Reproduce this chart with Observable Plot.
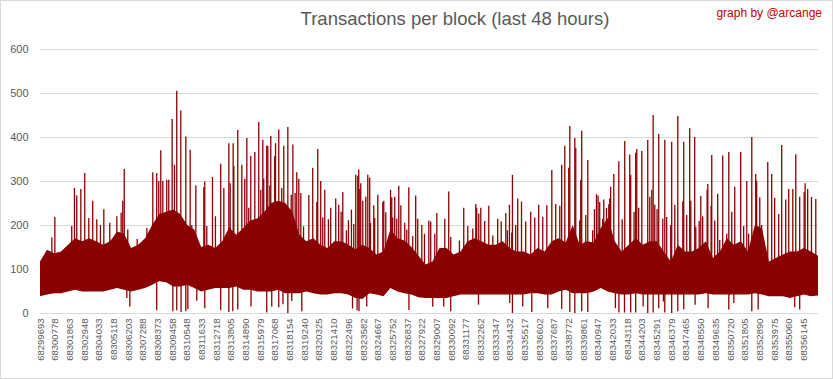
<!DOCTYPE html>
<html>
<head>
<meta charset="utf-8">
<script src="https://cdn.jsdelivr.net/npm/d3@7"></script>
<script src="https://cdn.jsdelivr.net/npm/@observablehq/plot@0.6"></script>
<style>
  html, body { margin: 0; padding: 0; background: #fff; }
  #chart { position: relative; width: 833px; height: 379px; overflow: hidden; background: #fff; font-family: "Liberation Sans", Arial, sans-serif; }
  #frame { position: absolute; left: 0; top: 0; width: 833px; height: 379px; box-sizing: border-box; border: 1px solid #d9d9d9; pointer-events: none; }
  #title { position: absolute; top: 8px; left: 455px; transform: translateX(-50%); white-space: nowrap; font-size: 18.5px; color: #595959; }
  #credit { position: absolute; top: 6px; right: 11px; white-space: nowrap; font-size: 12px; color: #c00000; }
  #plot { position: absolute; left: 0; top: 40px; }
</style>
</head>
<body>
<div id="chart">
  <div id="title">Transactions per block (last 48 hours)</div>
  <div id="credit">graph by @arcange</div>
  <div id="plot"></div>
  <div id="frame"></div>
</div>
<script>
// ---- data (block offsets from the first block 68299693) ----
const blockCount = 57500;
const bandStep = 518;
const bandHigh = [
  117,144,136,140,155,170,163,170,163,155,
  163,185,180,148,155,170,200,225,230,235,
  225,200,190,150,155,148,163,195,178,193,
  210,215,230,250,255,250,230,178,163,170,
  155,148,163,163,155,145,155,148,133,140,
  190,170,165,150,130,110,117,148,148,133,
  140,163,170,163,155,155,163,148,140,140,
  133,148,140,163,170,160,200,155,163,160,
  193,216,163,140,155,170,155,163,163,140,
  117,155,140,140,148,163,125,140,170,155,
  163,140,200,193,117,125,133,140,140,148,
  140,130
];
const bandLow = [
  38,42,45,45,49,53,49,49,49,49,
  53,57,53,49,53,57,64,72,70,60,
  60,64,57,49,53,57,57,57,60,53,
  53,49,49,49,53,45,45,45,49,45,
  42,42,45,45,42,34,32,45,42,38,
  57,49,45,42,36,34,34,34,34,38,
  42,42,42,42,42,42,42,42,42,42,
  45,45,42,42,49,53,45,45,45,49,
  57,49,45,42,42,45,42,42,42,42,
  42,42,42,42,42,45,42,42,42,42,
  42,42,45,42,38,38,38,34,38,42,
  38,40
];
const spikes = [
  [840,172],[1060,218],[2310,198],[2510,284],[2680,267],[2980,282],[3270,318],[3570,216],[3860,255],[4160,213],
  [4430,200],[4680,236],[5120,205],[5640,220],[5960,228],[6080,255],[6190,327],[6450,190],[7150,168],[7860,193],
  [8300,320],[8590,318],[8740,300],[8890,370],[9040,300],[9330,303],[9480,303],[9730,441],[9900,337],[10070,505],
  [10220,223],[10370,460],[10520,212],[10740,401],[11060,371],[11180,200],[11480,290],[12070,286],[12140,299],[12290,198],
  [12710,309],[12930,220],[13320,339],[13550,284],[13920,386],[14020,295],[14240,386],[14290,334],[14580,416],[14880,337],
  [15100,305],[15250,398],[15390,239],[15540,357],[15840,366],[16130,434],[16280,280],[16430,394],[16500,305],[16720,380],
  [16800,380],[16950,290],[17020,402],[17310,356],[17370,386],[17610,417],[17830,284],[17980,380],[18280,423],[18530,269],
  [18650,383],[18820,273],[18940,320],[19090,305],[19240,273],[19440,197],[19830,268],[20120,330],[20420,252],[20490,373],
  [20710,300],[20860,217],[21010,280],[21280,213],[21450,239],[21820,260],[22040,246],[22220,230],[22340,275],[22610,188],
  [22760,211],[22980,235],[23150,202],[23300,314],[23450,312],[23520,326],[23600,282],[23670,295],[23820,255],[24040,264],
  [24190,314],[24330,308],[24390,205],[24630,245],[24700,216],[24930,269],[25300,252],[25370,255],[25520,229],[25870,280],
  [25960,263],[26030,217],[26180,264],[26330,215],[26480,289],[26630,245],[26920,205],[27070,190],[27220,286],[27510,175],
  [27730,267],[27880,214],[28180,200],[28380,180],[28700,210],[28840,208],[29140,180],[29290,227],[29880,214],[30170,276],
  [30320,173],[30960,165],[31280,239],[31580,198],[31950,192],[32170,248],[32240,239],[32390,226],[32540,239],[32830,209],
  [33130,244],[33430,176],[33790,214],[34050,208],[34390,227],[34510,188],[34660,246],[34830,183],[34880,314],[35120,200],
  [35270,260],[35550,253],[35860,208],[36230,230],[36530,217],[36820,246],[37120,219],[37420,245],[37790,325],[38080,248],
  [38380,244],[38520,337],[38750,380],[39040,330],[39120,425],[39490,398],[39560,375],[39850,210],[39930,303],[40000,414],
  [40300,223],[40450,348],[40810,188],[40940,236],[41090,270],[41210,267],[41330,252],[41550,214],[41630,258],[41830,239],
  [42000,247],[42070,260],[42140,287],[42370,316],[42740,345],[42990,213],[43180,391],[43550,360],[43620,314],[43870,230],
  [43990,364],[44070,373],[44210,239],[44440,368],[44880,393],[45030,264],[45180,280],[45280,450],[45400,246],[45570,236],
  [45690,407],[45990,214],[46140,394],[46280,218],[46580,200],[46650,389],[46880,246],[47100,448],[47470,254],[47540,389],
  [47760,223],[47980,420],[48060,255],[48350,400],[48430,196],[48680,209],[48800,266],[48940,220],[49270,280],[49320,293],
  [49560,243],[49610,359],[49830,210],[50050,271],[50200,166],[50420,358],[50720,180],[50870,366],[51090,230],[51310,287],
  [51750,366],[51970,198],[52200,300],[52340,180],[52570,400],[52860,316],[52930,300],[53160,263],[53300,200],[53750,343],
  [54040,316],[54260,262],[54560,225],[54780,382],[55080,258],[55300,282],[55600,282],[55820,361],[56110,264],[56440,275],
  [56510,295],[56700,282],[56980,264],[57300,259]
];
const dips = [
  [6380,34],[6600,15],[8590,6],[9780,4],[10070,6],[10390,2],[10740,4],[10890,9],[11550,28],[12140,11],
  [13320,6],[13920,2],[14210,4],[14580,8],[15560,15],[16720,1],[17090,15],[17610,13],[17920,20],[18280,0],
  [18570,27],[19310,4],[23060,10],[23400,6],[23540,4],[24110,15],[27230,7],[28990,14],[29800,15],[30320,4],
  [32370,19],[34680,23],[34880,0],[35640,15],[36310,2],[37490,11],[38520,9],[39120,2],[39490,0],[40000,4],
  [40450,2],[42490,11],[42750,1],[43160,1],[43620,1],[43990,1],[44540,15],[44880,0],[45280,1],[45690,11],
  [46040,26],[46140,1],[46650,0],[47100,4],[47540,8],[48380,19],[49340,11],[50870,8],[51240,23],[52570,4],
  [53040,8],[55740,13],[56110,8]
];
const tickStep = 1085;
const tickLabels = [
  "68299693","68300778","68301863","68302948","68304033","68305118","68306203","68307288","68308373","68309458",
  "68310548","68311633","68312718","68313805","68314890","68315979","68317068","68318154","68319240","68320325",
  "68321410","68322496","68323582","68324667","68325752","68326837","68327922","68329007","68330092","68331177",
  "68332262","68333347","68334432","68335517","68336602","68337687","68338772","68339861","68340947","68342033",
  "68343118","68344203","68345291","68346379","68347465","68348550","68349635","68350720","68351805","68352890",
  "68353975","68355060","68356145"
];
const yTicks = [0, 100, 200, 300, 400, 500, 600];

// ---- build tables ----
const band = bandHigh.map((h, i) => ({x: Math.min(i * bandStep, blockCount), lo: bandLow[i], hi: h}));
const spikeRows = spikes.map(([x, v]) => ({x, v}));
const dipRows = dips.map(([x, v]) => ({x, v}));
const tickPositions = tickLabels.map((_, i) => i * tickStep);
const red = "#8b0000";

const chart = Plot.plot({
  width: 833,
  height: 339,
  marginLeft: 40,
  marginRight: 15,
  marginTop: 9,
  marginBottom: 66,
  style: {fontFamily: "Liberation Sans, Arial, sans-serif", color: "#595959", background: "transparent"},
  x: {type: "linear", domain: [0, blockCount]},
  y: {domain: [0, 600]},
  marks: [
    Plot.ruleY(yTicks, {stroke: "#d9d9d9", strokeWidth: 1}),
    Plot.areaY(band, {x: "x", y1: "lo", y2: "hi", fill: red}),
    Plot.ruleX(spikeRows, {x: "x", y1: 100, y2: "v", stroke: red, strokeWidth: 1.3}),
    Plot.ruleX(dipRows, {x: "x", y1: "v", y2: 70, stroke: red, strokeWidth: 1.3}),
    Plot.axisY(yTicks, {tickSize: 0, tickPadding: 12, fontSize: 11, label: null}),
    Plot.axisX(tickPositions, {
      tickFormat: d => tickLabels[Math.round(d / tickStep)],
      tickRotate: -90, tickSize: 0, tickPadding: 5, fontSize: 9.5, label: null
    })
  ]
});
document.getElementById("plot").appendChild(chart);
</script>
</body>
</html>
